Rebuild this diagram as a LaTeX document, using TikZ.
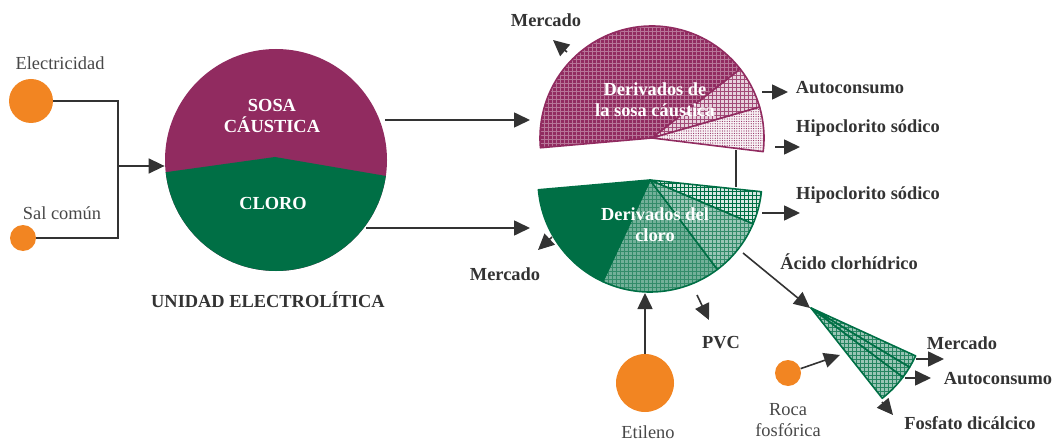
\documentclass[tikz,border=0pt]{standalone}
\usepackage{fontspec}
\setmainfont{Liberation Serif}
\usetikzlibrary{arrows.meta,patterns}
\definecolor{sosa}{HTML}{912B60}
\definecolor{cloro}{HTML}{006F45}
\definecolor{naranja}{HTML}{F28522}
\definecolor{gris}{HTML}{333333}
% tramas finas
\pgfdeclarepatternformonly{rejilla}{\pgfqpoint{-0.3pt}{-0.3pt}}{\pgfqpoint{2.3pt}{2.3pt}}{\pgfqpoint{2pt}{2pt}}{
    \pgfsetlinewidth{0.35pt}
    \pgfpathmoveto{\pgfqpoint{0pt}{0pt}}
    \pgfpathlineto{\pgfqpoint{2.01pt}{0pt}}
    \pgfpathmoveto{\pgfqpoint{0pt}{0pt}}
    \pgfpathlineto{\pgfqpoint{0pt}{2.01pt}}
    \pgfusepath{stroke}
}
\pgfdeclarepatternformonly{puntos}{\pgfqpoint{-0.5pt}{-0.5pt}}{\pgfqpoint{1.2pt}{1.2pt}}{\pgfqpoint{1.2pt}{1.2pt}}{
    \pgfpathcircle{\pgfqpoint{0pt}{0pt}}{0.3pt}
    \pgfusepath{fill}
}
\tikzset{
    flujo/.style = {draw = gris, line width = 0.8pt, -{Triangle[length = 8pt, width = 7.5pt]}},
    linea/.style = {draw = gris, line width = 0.8pt},
    fuente/.style = {circle, fill = naranja, inner sep = 0pt},
    etiq/.style = {font = \fontsize{9.2}{10.5}\selectfont\bfseries, text = gris, align = center},
    texto/.style = {font = \fontsize{9.2}{10.5}\selectfont, text = gris!90!white, align = center},
    blanco/.style = {font = \fontsize{9.2}{10.5}\selectfont\bfseries, text = white, align = center},
    pie sosa/.style = {draw = sosa, line width = 0.8pt, line join = round},
    pie cloro/.style = {draw = cloro, line width = 0.8pt, line join = round}
}
\begin{document}
\begin{tikzpicture}[x = 0.5pt, y = 0.5pt]
        \useasboundingbox (0, 0) rectangle (1053, -443);
        % fuentes
        \node [fuente, minimum size = 22pt] (elec) at (31, -101) {};
        \node [fuente, minimum size = 13pt] (sal) at (23, -238) {};
        \node [texto] (lelec) at (60, -63) {Electricidad};
        \node [texto] (lsal) at (62, -213) {Sal común};
        \coordinate (union) at (118, -166);
        \draw [linea] (elec) -- (elec -| union) -- (sal -| union) -- (sal);
        % unidad electrolitica
        \node [circle, minimum size = 111pt, inner sep = 0pt] (unidad) at (276, -160) {};
        \begin{scope}
            \clip (unidad.center) circle [radius = 55.5pt];
            \fill [sosa] (160, -45) rectangle (392, -275);
            \fill [cloro] (160, -173) -- (275, -157) -- (392, -177) -- (392, -275) -- (160, -275) -- cycle;
        \end{scope}
        \draw [flujo] (union) -- (union -| unidad.west);
        \node [blanco] (lsosa) at (272, -116) {SOSA\\CÁUSTICA};
        \node [blanco] (lcloro) at (273, -203) {CLORO};
        \node [etiq] (lunidad) at (268, -300) {UNIDAD ELECTROLÍTICA};
        % derivados de la sosa
        \coordinate (psosa) at (652, -138);
        \foreach \a/\b/\fondo/\trama/\pat in {38/185/sosa/sosa!65!white/rejilla, 16/38/sosa!22!white/sosa!85!white/rejilla, -7/16/sosa!6!white/sosa/puntos}
            \draw [pie sosa, preaction = {fill = \fondo}, pattern = \pat, pattern color = \trama] (psosa) -- ++(\a:56pt) arc [start angle = \a, end angle = \b, radius = 56pt] -- cycle;
        \node [blanco] (lpsosa) at (655, -100) {Derivados de\\la sosa cáustica};
        % derivados del cloro
        \coordinate (pcloro) at (650, -180);
        \foreach \a/\b/\fondo/\trama in {245/307/cloro!55!white/cloro!80!white, 307/337/cloro!40!white/cloro!80!white, 337/354/cloro!15!white/cloro}
            \draw [pie cloro, preaction = {fill = \fondo}, pattern = rejilla, pattern color = \trama] (pcloro) -- ++(\a:56pt) arc [start angle = \a, end angle = \b, radius = 56pt] -- cycle;
        \draw [pie cloro, fill = cloro] (pcloro) -- ++(185:56pt) arc [start angle = 185, end angle = 245, radius = 56pt] -- cycle;
        \node [blanco] (lpcloro) at (655, -225) {Derivados del\\cloro};
        % fosfato
        \coordinate (pfosf) at (811, -308);
        \foreach \a/\b in {-31/-24.6, -37/-31, -51.7/-37}
            \draw [pie cloro, preaction = {fill = cloro!40!white}, pattern = rejilla, pattern color = cloro!85!white] (pfosf) -- ++(\a:57.5pt) arc [start angle = \a, end angle = \b, radius = 57.5pt] -- cycle;
        % entradas
        \coordinate (s1) at (385, -120);
        \coordinate (s2) at (530, -120);
        \coordinate (c1) at (366, -228);
        \coordinate (c2) at (530, -228);
        \draw [flujo] (s1) -- (s2);
        \draw [flujo] (c1) -- (c2);
        \coordinate (h1) at (736, -150);
        \coordinate (h2) at (736, -187);
        \draw [linea] (h1) -- (h2);
        \node [fuente, minimum size = 29pt] (etileno) at (645, -383) {};
        \node [texto] (letileno) at (648, -432) {Etileno};
        \coordinate (e2) at (645, -293);
        \draw [flujo] (etileno) -- (e2);
        \node [fuente, minimum size = 13pt] (roca) at (788, -373) {};
        \node [texto] (lroca) at (788, -420) {Roca\\fosfórica};
        \coordinate (r2) at (840, -355);
        \draw [flujo] (roca) -- (r2);
        % salidas
        \foreach \i/\x/\y/\u/\v in {1/567/52/553/40, 2/762/92/788/92, 3/775/147/800/147,
                                    4/552/237/538/250, 5/762/213/800/213, 6/743/253/810/308,
                                    7/697/295/709/320, 8/916/359/944/359, 9/905/378/931/378,
                                    10/882/402/893/415} {
            \coordinate (o\i) at (\x, -\y);
            \coordinate (f\i) at (\u, -\v);
            \draw [flujo] (o\i) -- (f\i);
        }
        \node [etiq] (lm1) at (546, -20) {Mercado};
        \node [etiq] (la1) at (850, -88) {Autoconsumo};
        \node [etiq] (lh1) at (868, -128) {Hipoclorito sódico};
        \node [etiq] (lh2) at (868, -195) {Hipoclorito sódico};
        \node [etiq] (lm2) at (505, -274) {Mercado};
        \node [etiq] (lac) at (849, -262) {Ácido clorhídrico};
        \node [etiq] (lpvc) at (721, -343) {PVC};
        \node [etiq] (lm3) at (962, -343) {Mercado};
        \node [etiq] (la3) at (998, -379) {Autoconsumo};
        \node [etiq] (lfos) at (970, -423) {Fosfato dicálcico};
    \end{tikzpicture}
\end{document}
